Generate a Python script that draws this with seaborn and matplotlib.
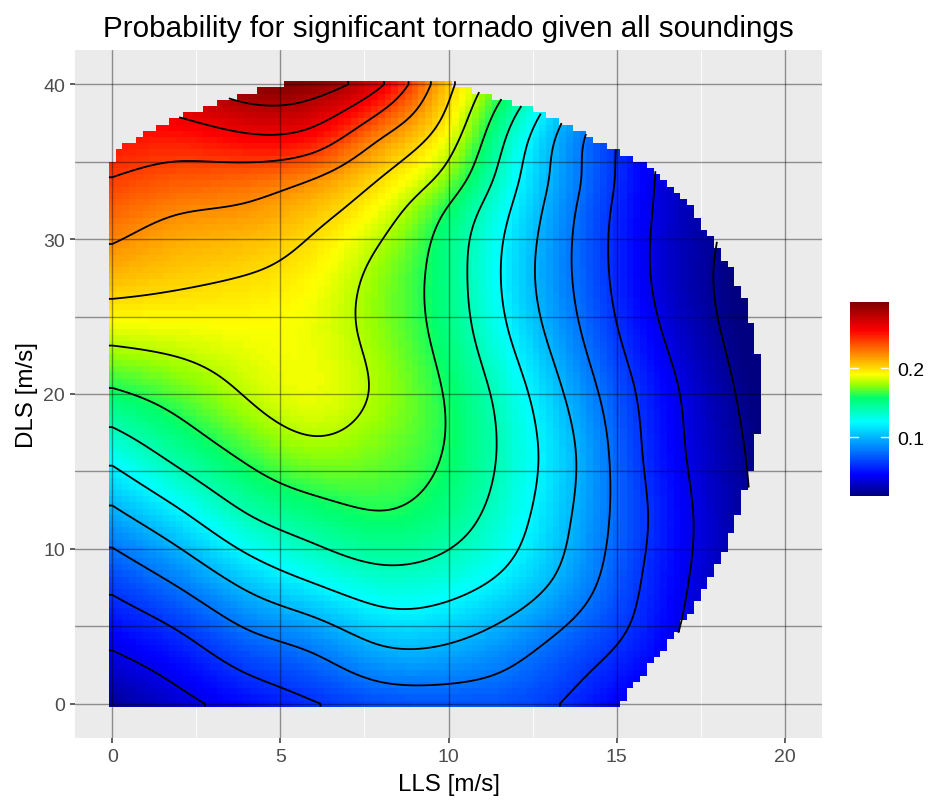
import numpy as np
import matplotlib
matplotlib.use("Agg")
import matplotlib.pyplot as plt
from matplotlib.colors import LinearSegmentedColormap
import seaborn as sns

# ---------------- data ----------------
lls_knots = [0, 2, 4, 6, 8, 10, 12, 14, 16, 18, 20]                    # LLS [m/s]
dls_knots = [0, 4, 8, 12, 16, 20, 24, 28, 32, 34, 36, 38, 40]          # DLS [m/s]

prob_dls00 = [0.022, 0.035, 0.048, 0.059, 0.068, 0.070, 0.068, 0.054, 0.034, 0.017, 0.006]
prob_dls04 = [0.043, 0.056, 0.074, 0.086, 0.102, 0.101, 0.088, 0.070, 0.050, 0.024, 0.010]
prob_dls08 = [0.066, 0.084, 0.106, 0.122, 0.133, 0.129, 0.113, 0.087, 0.056, 0.030, 0.012]
prob_dls12 = [0.094, 0.1154, 0.138, 0.151, 0.158, 0.149, 0.126, 0.094, 0.059, 0.031, 0.010]
prob_dls16 = [0.125, 0.1455, 0.163, 0.174, 0.170, 0.158, 0.131, 0.096, 0.056, 0.029, 0.008]
prob_dls20 = [0.157, 0.168, 0.181, 0.188, 0.177, 0.158, 0.127, 0.089, 0.053, 0.026, 0.005]
prob_dls24 = [0.186, 0.188, 0.190, 0.188, 0.174, 0.152, 0.116, 0.079, 0.045, 0.021, 0.004]
prob_dls28 = [0.211, 0.205, 0.201, 0.193, 0.175, 0.150, 0.111, 0.074, 0.040, 0.019, 0.003]
prob_dls32 = [0.231, 0.222, 0.218, 0.207, 0.189, 0.159, 0.117, 0.076, 0.041, 0.021, 0.004]
prob_dls34 = [0.240, 0.234, 0.231, 0.221, 0.200, 0.173, 0.123, 0.079, 0.042, 0.021, 0.004]
prob_dls36 = [0.249, 0.246, 0.251, 0.245, 0.215, 0.185, 0.129, 0.080, 0.043, 0.021, 0.005]
prob_dls38 = [0.256, 0.261, 0.272, 0.268, 0.237, 0.196, 0.140, 0.087, 0.046, 0.022, 0.005]
prob_dls40 = [0.262, 0.275, 0.292, 0.290, 0.262, 0.205, 0.157, 0.098, 0.054, 0.025, 0.005]

# extent of the covered (LLS, DLS) region, per DLS value
edge_dls    = [0, 2, 4, 6, 8, 10, 12, 14, 16, 18, 20, 22, 24, 26, 28, 30, 32, 34,
               35, 35.6, 36, 36.8, 37.6, 38.4, 39.2, 40]
edge_lls_lo = [-0.1] * 19 + [0.1, 0.33, 0.94, 1.73, 2.56, 3.57, 5.15]
edge_lls_hi = [15.1, 15.9, 16.6, 17.25, 17.8, 18.25, 18.6, 18.9, 19.15, 19.3, 19.3,
               19.3, 19.1, 18.85, 18.45, 17.9, 17.25, 16.3, 15.8, 15.1, 14.8, 14.05,
               13.25, 12.45, 11.4, 10.2]

contour_levels = [0.02, 0.04, 0.06, 0.08, 0.10, 0.12, 0.14, 0.16, 0.18, 0.20, 0.22, 0.24, 0.26, 0.28]
value_range = [0.0145, 0.296]
cbar_ticks = [0.1, 0.2]
tick_lls = [0, 5, 10, 15, 20]
tick_dls = [0, 10, 20, 30, 40]
minor_lls = [2.5, 7.5, 12.5, 17.5]
ref_lls = [0, 5, 10, 15, 20]
ref_dls = [0, 5, 10, 15, 20, 25, 30, 35, 40]

title = "Probability for significant tornado given all soundings"
xlabel = "LLS [m/s]"
ylabel = "DLS [m/s]"

# ---------------- style ----------------
sns.set_theme(style="darkgrid")
plt.rcParams["font.family"] = ["Liberation Sans", "DejaVu Sans"]

cmap_stops = [
    (0.0145, (0.00, 0.00, 0.50)),
    (0.045, (0.00, 0.00, 1.00)),
    (0.083, (0.00, 0.50, 1.00)),
    (0.122, (0.00, 1.00, 1.00)),
    (0.157, (0.00, 1.00, 0.42)),
    (0.176, (0.60, 1.00, 0.00)),
    (0.191, (1.00, 1.00, 0.00)),
    (0.222, (1.00, 0.52, 0.00)),
    (0.255, (1.00, 0.00, 0.00)),
    (0.296, (0.50, 0.00, 0.00)),
]
vmin, vmax = value_range
cmap = LinearSegmentedColormap.from_list(
    "prob", [((v - vmin) / (vmax - vmin), c) for v, c in cmap_stops])


# ---------------- smooth surface through the knot values ----------------
def spline_basis(knots, xq):
    """Natural cubic spline evaluation matrix (len(xq) x len(knots))."""
    t = np.asarray(knots, float)
    n = len(t)
    h = np.diff(t)
    A = np.zeros((n, n))
    R = np.zeros((n, n))
    A[0, 0] = A[-1, -1] = 1.0
    for i in range(1, n - 1):
        A[i, i - 1] = h[i - 1]
        A[i, i] = 2 * (h[i - 1] + h[i])
        A[i, i + 1] = h[i]
        R[i, i - 1] = 6 / h[i - 1]
        R[i, i] = -6 / h[i - 1] - 6 / h[i]
        R[i, i + 1] = 6 / h[i]
    Mm = np.linalg.solve(A, R)
    xq = np.clip(np.asarray(xq, float), t[0], t[-1])
    k = np.clip(np.searchsorted(t, xq) - 1, 0, n - 2)
    hk = h[k]
    a = (t[k + 1] - xq) / hk
    b = (xq - t[k]) / hk
    B = np.zeros((len(xq), n))
    rows = np.arange(len(xq))
    B[rows, k] += a
    B[rows, k + 1] += b
    B += ((a ** 3 - a) * hk ** 2 / 6)[:, None] * Mm[k]
    B += ((b ** 3 - b) * hk ** 2 / 6)[:, None] * Mm[k + 1]
    return B


Z = np.array([prob_dls00, prob_dls04, prob_dls08, prob_dls12, prob_dls16, prob_dls20,
              prob_dls24, prob_dls28, prob_dls32, prob_dls34, prob_dls36, prob_dls38,
              prob_dls40])


def surface(xq, yq):
    return spline_basis(dls_knots, yq) @ Z @ spline_basis(lls_knots, xq).T


def covered(X, Y, half_w):
    lo = np.interp(Y, edge_dls, edge_lls_lo)
    hi = np.interp(Y, edge_dls, edge_lls_hi)
    return (X - half_w >= lo - 0.06) & (X + half_w <= hi + 0.06)


# raster cells 0.2 x 0.4
xc = np.arange(101) * 0.2
yc = np.arange(101) * 0.4
XC, YC = np.meshgrid(xc, yc)
P = np.ma.masked_where(~covered(XC, YC, 0.1), surface(xc, yc))
xe = np.arange(102) * 0.2 - 0.1
ye = np.arange(102) * 0.4 - 0.2

# fine grid for contour lines
xf = np.linspace(-0.1, 20.1, 405)
yf = np.linspace(-0.2, 40.2, 405)
XF, YF = np.meshgrid(xf, yf)
PF = np.ma.masked_where(~covered(XF, YF, 0.0), surface(xf, yf))

# ---------------- figure ----------------
W, H = 931, 803
fig = plt.figure(figsize=(W / 100, H / 100), dpi=100)
fig.patch.set_facecolor("white")
ax = fig.add_axes([75 / W, 1 - 739 / H, (822 - 75) / W, (739 - 51) / H])
ax.set_facecolor("#EBEBEB")
ax.grid(False)
for s in ax.spines.values():
    s.set_visible(False)

for v in minor_lls:
    ax.axvline(v, color="white", lw=0.6, zorder=0.5)

mesh = ax.pcolormesh(xe, ye, P, cmap=cmap, vmin=vmin, vmax=vmax,
                     shading="flat", antialiased=False, zorder=1)
ax.contour(XF, YF, PF, levels=contour_levels, colors="black",
           linewidths=1.3, zorder=2)

for v in ref_lls:
    ax.axvline(v, color="black", alpha=0.4, lw=1.0, zorder=3)
for v in ref_dls:
    ax.axhline(v, color="black", alpha=0.4, lw=1.0, zorder=3)

ax.set_xlim(-1.11, 21.11)
ax.set_ylim(-2.22, 42.22)
ax.set_xticks(tick_lls)
ax.set_yticks(tick_dls)
ax.set_xticklabels([str(t) for t in tick_lls])
ax.set_yticklabels([str(t) for t in tick_dls])
ax.tick_params(axis="both", which="major", length=3.6, width=1.1, color="#333333",
               labelsize=14, labelcolor="#4D4D4D", pad=3.5,
               bottom=True, left=True)
ax.set_xlabel(xlabel, fontsize=17.4, color="black", labelpad=6)
ax.set_ylabel(ylabel, fontsize=17.4, color="black", labelpad=4)
ax.set_title(title, fontsize=21.3, color="black", pad=10)

# colour bar
cax = fig.add_axes([850 / W, 1 - 497 / H, 39 / W, 194 / H])
cb = fig.colorbar(mesh, cax=cax, ticks=cbar_ticks)
cb.outline.set_visible(False)
cax.tick_params(length=0, labelsize=14, labelcolor="black", pad=6)
cax.set_yticklabels([str(t) for t in cbar_ticks])
for t in cbar_ticks:
    cax.plot([0.0, 0.2], [t, t], color="white", lw=1.0, transform=cax.get_yaxis_transform())
    cax.plot([0.8, 1.0], [t, t], color="white", lw=1.0, transform=cax.get_yaxis_transform())

fig.savefig("out.png", dpi=100, facecolor="white")
